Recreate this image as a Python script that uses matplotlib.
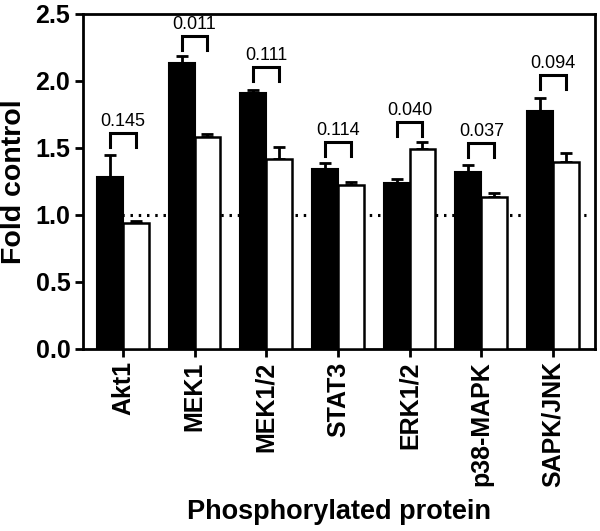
import numpy as np
import matplotlib
matplotlib.use("Agg")
import matplotlib.pyplot as plt

plt.rcParams['font.family'] = ['Liberation Sans', 'DejaVu Sans']

proteins = ['Akt1', 'MEK1', 'MEK1/2', 'STAT3', 'ERK1/2', 'p38-MAPK', 'SAPK/JNK']
black_vals = [1.28, 2.13, 1.91, 1.345, 1.235, 1.32, 1.775]
black_err = [0.165, 0.055, 0.025, 0.04, 0.03, 0.05, 0.10]
white_vals = [0.94, 1.58, 1.42, 1.225, 1.495, 1.135, 1.395]
white_err = [0.015, 0.02, 0.085, 0.02, 0.05, 0.03, 0.07]
p_values = ['0.145', '0.011', '0.111', '0.114', '0.040', '0.037', '0.094']
bracket_top = [1.61, 2.335, 2.105, 1.545, 1.695, 1.535, 2.045]

x = np.arange(len(proteins))
w = 0.36

fig = plt.figure(figsize=(6.0, 5.31), dpi=100)
ax = fig.add_axes([0.138, 0.343, 0.854, 0.631])

ax.hlines(1.0, x[0] - w, x[-1] + w + 0.1, colors='black', linewidth=2.2,
          linestyles=(0, (0.8, 1.9)), zorder=1)

ekw = dict(ecolor='black', elinewidth=2, capsize=4.3, capthick=2, zorder=2)
ax.bar(x - w / 2, black_vals, w, color='black', edgecolor='black', linewidth=1.5,
       yerr=[np.zeros(len(x)), black_err], error_kw=ekw, zorder=3)
ax.bar(x + w / 2, white_vals, w, color='white', edgecolor='black', linewidth=1.8,
       yerr=[np.zeros(len(x)), white_err], error_kw=ekw, zorder=3)

for i in range(len(x)):
    top = bracket_top[i]
    ax.plot([x[i] - w / 2, x[i] - w / 2, x[i] + w / 2, x[i] + w / 2],
            [top - 0.105, top, top, top - 0.105], color='black', linewidth=2.2,
            solid_joinstyle='miter', zorder=4)
    ax.text(x[i], top + 0.02, p_values[i], ha='center', va='bottom', fontsize=13)

ax.set_xlim(-0.56, 6.59)
ax.set_ylim(0, 2.5)
ax.set_yticks(np.arange(0, 2.51, 0.5))
ax.set_yticklabels(['%.1f' % v for v in np.arange(0, 2.51, 0.5)], fontsize=18,
                   fontweight='bold')
ax.set_xticks(x)
ax.set_xticklabels(proteins, rotation=90, fontsize=18, fontweight='bold')
ax.tick_params(direction='out', length=6, width=2, pad=3)
for s in ax.spines.values():
    s.set_linewidth(2)

ax.set_ylabel('Fold control', fontsize=20.5, fontweight='bold', labelpad=6)
ax.set_xlabel('Phosphorylated protein', fontsize=19.5, fontweight='bold', labelpad=8)

plt.savefig('out.png', dpi=100)
